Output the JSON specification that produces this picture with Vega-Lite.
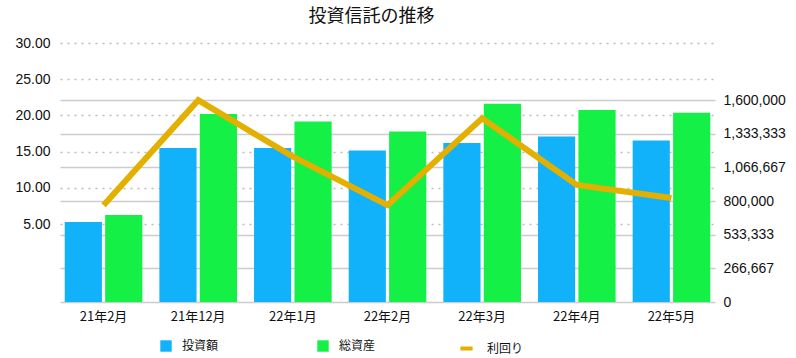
{
  "$schema": "https://vega.github.io/schema/vega-lite/v6.json",
  "autosize": {"type": "none"},
  "padding": {"left": 60, "top": 43, "right": 81, "bottom": 56},
  "width": 655,
  "height": 259,
  "background": "white",
  "config": {
    "font": "Noto Sans CJK JP",
    "view": {"stroke": null},
    "axis": {"labelFont": "Noto Sans CJK JP", "labelFontSize": 13, "labelColor": "#111111"},
    "legend": {"labelFont": "Noto Sans CJK JP", "labelFontSize": 12, "labelColor": "#111111"}
  },
  "title": {"text": "投資信託の推移", "fontSize": 18, "fontWeight": "normal", "color": "#111111", "anchor": "middle", "offset": 10, "dx": -16},
  "datasets": {
    "d": [
      {"月": "21年2月", "投資額": 634000, "総資産": 689000, "利回り": 7.6},
      {"月": "21年12月", "投資額": 1220000, "総資産": 1490000, "利回り": 22.1},
      {"月": "22年1月", "投資額": 1220000, "総資産": 1430000, "利回り": 14.3},
      {"月": "22年2月", "投資額": 1200000, "総資産": 1350000, "利回り": 7.6},
      {"月": "22年3月", "投資額": 1260000, "総資産": 1570000, "利回り": 19.6},
      {"月": "22年4月", "投資額": 1310000, "総資産": 1520000, "利回り": 10.4},
      {"月": "22年5月", "投資額": 1280000, "総資産": 1500000, "利回り": 8.6}
    ]
  },
  "data": {"name": "d"},
  "layer": [
    {
      "transform": [{"fold": ["投資額", "総資産"], "as": ["系列", "金額"]}],
      "mark": {"type": "bar"},
      "encoding": {
        "x": {"field": "月", "type": "nominal", "sort": null,
          "scale": {"paddingInner": 0.18, "paddingOuter": 0.05},
          "axis": {"title": null, "labelAngle": 0, "domain": false, "ticks": false, "labelPadding": 8}},
        "xOffset": {"field": "系列", "type": "nominal", "sort": ["投資額", "総資産"], "scale": {"paddingInner": 0.08}},
        "y": {"field": "金額", "type": "quantitative",
          "scale": {"domain": [0, 2051500], "nice": false},
          "axis": {"orient": "right", "title": null, "values": [0, 266667, 533333, 800000, 1066667, 1333333, 1600000],
            "format": ",d", "domain": false, "ticks": false, "labelPadding": 8, "labelFont": "Liberation Sans", "labelFontSize": 14,
            "grid": true, "gridColor": "#cccccc", "gridWidth": 1.5}},
        "color": {"field": "系列", "type": "nominal",
          "scale": {"domain": ["投資額", "総資産"], "range": ["#12B2FA", "#14F046"]},
          "legend": {"title": null, "orient": "none", "direction": "horizontal", "legendX": 100, "legendY": 297,
            "symbolType": "square", "symbolSize": 130, "symbolStrokeWidth": 0, "columnPadding": 98, "labelOffset": 10}}
      }
    },
    {
      "mark": {"type": "line", "strokeWidth": 6, "strokeJoin": "miter"},
      "encoding": {
        "x": {"field": "月", "type": "nominal", "sort": null},
        "y": {"field": "利回り", "type": "quantitative",
          "scale": {"domain": [-5.77, 30], "nice": false, "zero": false},
          "axis": {"orient": "left", "title": null, "values": [5, 10, 15, 20, 25, 30], "format": ".2f",
            "domain": false, "ticks": false, "labelPadding": 10, "labelFont": "Liberation Sans", "labelFontSize": 14,
            "grid": true, "gridDash": [2, 5], "gridColor": "#bbbbbb", "gridWidth": 1.5}},
        "stroke": {"datum": "利回り", "type": "nominal",
          "scale": {"range": ["#E3B000"]},
          "legend": {"title": null, "orient": "none", "legendX": 398, "legendY": 297,
            "symbolType": "stroke", "symbolSize": 150, "symbolStrokeWidth": 4, "labelOffset": 12}}
      }
    }
  ],
  "resolve": {"scale": {"y": "independent"}}
}
